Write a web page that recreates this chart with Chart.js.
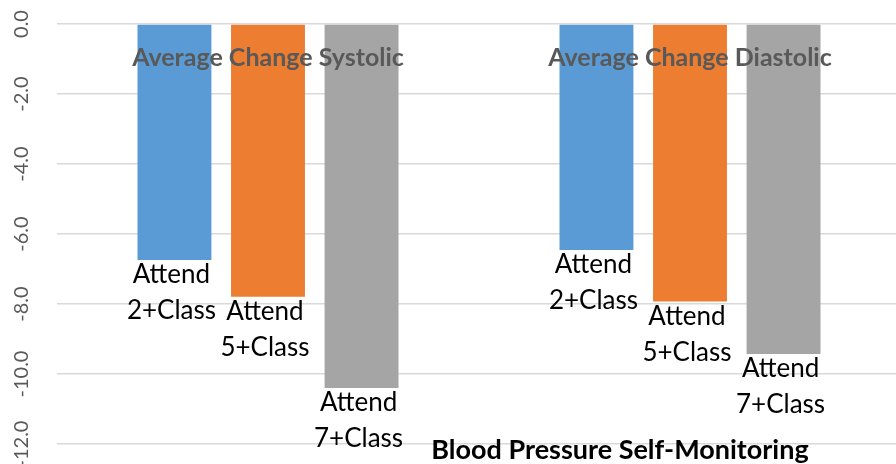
<!DOCTYPE html>
<html>
<head>
<meta charset="utf-8">
<script src="https://cdn.jsdelivr.net/npm/chart.js@4"></script>
<style>
  html, body { margin: 0; padding: 0; background: #fff; overflow: hidden; }
  #wrap { position: absolute; left: 0; top: 0; width: 905px; height: 470px; }
</style>
</head>
<body>
<div id="wrap"><canvas id="c"></canvas></div>
<script>
const categories = ['Average Change Systolic', 'Average Change Diastolic'];
const seriesNames = ['Attend 2+Class', 'Attend 5+Class', 'Attend 7+Class'];
const attend2 = [-6.74, -6.46];
const attend5 = [-7.79, -7.93];
const attend7 = [-10.4, -9.43];
const yTicks = [0, -2, -4, -6, -8, -10, -12];
const xTitle = 'Blood Pressure Self-Monitoring';

const colors = ['#5B9BD5', '#ED7D31', '#A5A5A5'];
const seriesValues = [attend2, attend5, attend7];

const overlay = {
  id: 'overlay',
  afterDatasetsDraw(chart) {
    const ctx = chart.ctx;
    const x = chart.scales.x, y = chart.scales.y;
    ctx.save();
    // y tick labels (rotated)
    ctx.fillStyle = '#595959';
    ctx.font = '20px Lato';
    ctx.textAlign = 'center';
    ctx.textBaseline = 'middle';
    yTicks.forEach(v => {
      const py = y.getPixelForValue(v);
      ctx.save();
      ctx.translate(22, py);
      ctx.rotate(-Math.PI / 2);
      ctx.fillText(v.toFixed(1), 0, 0);
      ctx.restore();
    });
    // data labels
    ctx.fillStyle = '#000';
    ctx.font = '26px Lato';
    ctx.textAlign = 'center';
    ctx.textBaseline = 'alphabetic';
    chart.data.datasets.forEach((ds, di) => {
      const meta = chart.getDatasetMeta(di);
      const parts = ds.label.split(' ');
      meta.data.forEach(bar => {
        ctx.fillText(parts[0], bar.x - 3, bar.y + 23);
        ctx.fillText(parts[1], bar.x - 3, bar.y + 59);
      });
    });
    // category labels on top of bars
    ctx.fillStyle = '#595959';
    ctx.font = 'bold 25px Lato';
    categories.forEach((c, i) => {
      ctx.fillText(c, x.getPixelForValue(i), 66);
    });
    // axis title
    ctx.fillStyle = '#000';
    ctx.font = 'bold 27px Lato';
    ctx.fillText(xTitle, 620, 459);
    ctx.restore();
  }
};

new Chart(document.getElementById('c'), {
  type: 'bar',
  data: {
    labels: categories,
    datasets: seriesNames.map((n, i) => ({
      label: n,
      data: seriesValues[i],
      backgroundColor: colors[i],
      borderWidth: 0,
      categoryPercentage: 0.665,
      barPercentage: 0.79
    }))
  },
  options: {
    responsive: true,
    maintainAspectRatio: false,
    animation: false,
    layout: { padding: { left: 57, top: 24, right: 4, bottom: 26 } },
    plugins: { legend: { display: false }, tooltip: { enabled: false }, title: { display: false } },
    scales: {
      x: {
        grid: { display: false, drawTicks: false },
        border: { display: false },
        ticks: { display: false }
      },
      y: {
        min: -12, max: 0,
        ticks: { display: false, stepSize: 2 },
        grid: { color: '#d9d9d9', lineWidth: 1.5, drawTicks: false },
        border: { display: false }
      }
    }
  },
  plugins: [overlay]
});
</script>
</body>
</html>
